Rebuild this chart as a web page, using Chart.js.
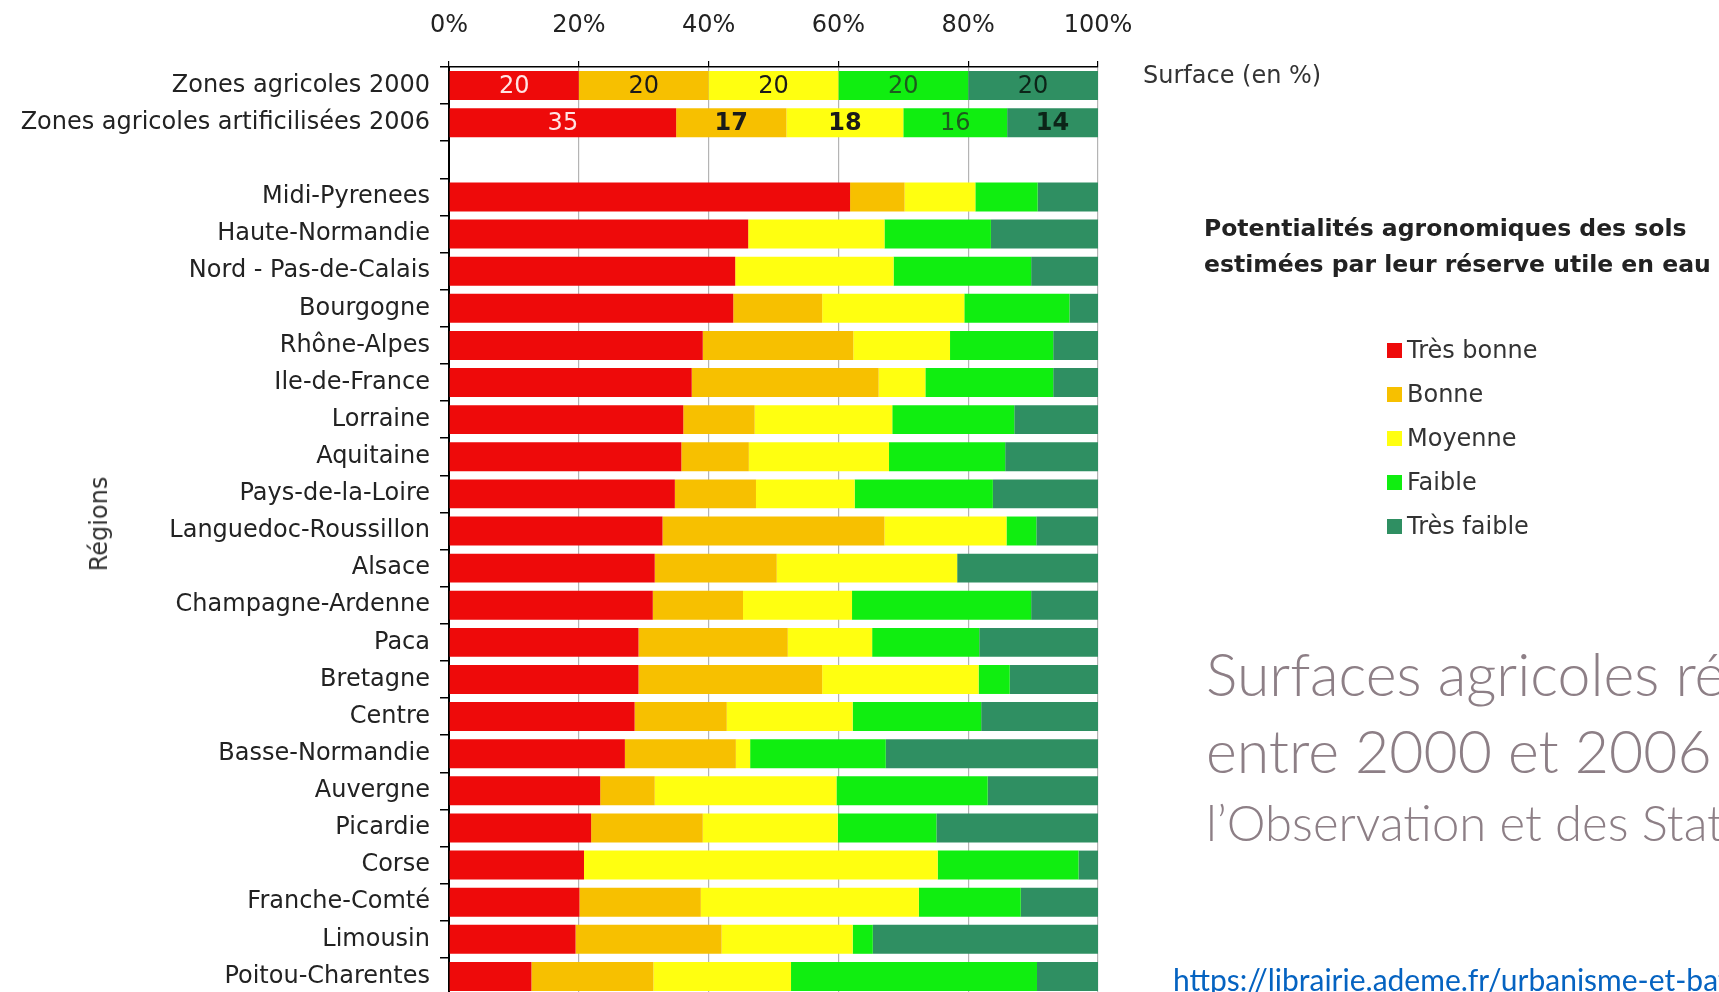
<!DOCTYPE html>
<html><head><meta charset="utf-8">
<script src="https://cdn.jsdelivr.net/npm/chart.js@4/dist/chart.umd.min.js"></script>
<style>
html,body{margin:0;padding:0;width:1719px;height:992px;overflow:hidden;background:#fff;}
#wrap{position:absolute;left:0;top:0;width:1719px;height:1000px;}
.t{position:absolute;white-space:nowrap;font-family:"DejaVu Sans",sans-serif;}
.big{position:absolute;white-space:nowrap;font-family:Lato,"Open Sans",sans-serif;font-weight:300;color:#8d7f86;}
.sq{position:absolute;width:15px;height:15px;}
</style></head><body>
<div id="wrap"><canvas id="c" width="1719" height="1000"></canvas></div>
<div class="t" style="left:1143px;top:61px;font-size:24px;line-height:28px;color:#333;">Surface (en %)</div>
<div class="t" style="left:1204px;top:210px;font-size:23.5px;line-height:36px;font-weight:bold;color:#222;">Potentialités agronomiques des sols<br>estimées par leur réserve utile en eau</div>
<div id="legend"></div>
<div class="t" style="left:99px;top:524px;font-size:24px;line-height:28px;color:#333;transform:translate(-50%,-50%) rotate(-90deg);">Régions</div>
<div class="big" style="left:1206px;top:639px;font-size:59px;line-height:70px;">Surfaces agricoles réduites</div>
<div class="big" style="left:1206px;top:716px;font-size:59px;line-height:70px;">entre 2000 et 2006 (</div>
<div class="big" style="left:1206px;top:793px;font-size:49px;line-height:58px;">l’Observation et des Statistiques</div>
<div class="t" style="left:1173px;top:961px;font-size:30px;line-height:36px;color:#0563c1;font-family:Lato,sans-serif;">https://librairie.ademe.fr/urbanisme-et-batiment</div>
<script>
const categories = ["Zones agricoles 2000","Zones agricoles artificilisées 2006","","Midi-Pyrenees","Haute-Normandie","Nord - Pas-de-Calais","Bourgogne","Rhône-Alpes","Ile-de-France","Lorraine","Aquitaine","Pays-de-la-Loire","Languedoc-Roussillon","Alsace","Champagne-Ardenne","Paca","Bretagne","Centre","Basse-Normandie","Auvergne","Picardie","Corse","Franche-Comté","Limousin","Poitou-Charentes"];
const seriesNames = ["Très bonne","Bonne","Moyenne","Faible","Très faible"];
const seriesColors = ["#ee0a0a","#f7c000","#ffff10","#10ee10","#2f8f62"];
const tresBonne  = [20,35,null,61.8,46.1,44.1,43.8,39.1,37.4,36.1,35.8,34.8,32.9,31.7,31.4,29.2,29.2,28.6,27.1,23.3,21.9,20.8,20.1,19.5,12.7];
const bonne      = [20,17,null, 8.4, 0.0, 0.0,13.7,23.2,28.8,11.0,10.4,12.5,34.2,18.8,13.9,23.0,28.3,14.2,17.1, 8.4,17.2, 0.0,18.7,22.5,18.8];
const moyenne    = [20,18,null,10.9,21.0,24.4,21.9,14.9, 7.2,21.2,21.6,15.2,18.8,27.8,16.8,13.0,24.1,19.4, 2.2,28.0,20.8,54.5,33.6,20.2,21.2];
const faible     = [20,16,null, 9.6,16.4,21.2,16.2,15.9,19.7,18.8,17.9,21.3, 4.6, 0.0,27.6,16.5, 4.8,19.8,20.9,23.3,15.2,21.7,15.7, 3.1,37.9];
const tresFaible = [20,14,null, 9.3,16.5,10.3, 4.4, 6.9, 6.9,12.9,14.3,16.2, 9.5,21.7,10.3,18.3,13.6,18.0,32.7,17.0,24.9, 3.0,11.9,34.7, 9.4];
const xTicks = [0,20,40,60,80,100];
const labelledRows = [0,1];
const labelColors = ["#ffe4e4","#1a1a1a","#1a1a1a","#1d5a1d","#0c2418"];

const seriesData = [tresBonne,bonne,moyenne,faible,tresFaible];

// HTML legend
const lg = document.getElementById('legend');
seriesNames.forEach((n,i)=>{
  const y = 350 + 44*i;
  const s = document.createElement('div'); s.className='sq';
  s.style.left='1387px'; s.style.top=(y-7)+'px'; s.style.background=seriesColors[i];
  lg.appendChild(s);
  const t = document.createElement('div'); t.className='t';
  t.style.cssText='left:1407px;top:'+(y-14)+'px;font-size:24px;line-height:28px;color:#333;';
  t.textContent=n; lg.appendChild(t);
});

const valueLabels = {
  id:'valueLabels',
  afterDatasetsDraw(chart){
    const ctx = chart.ctx;
    ctx.save();
    ctx.textAlign='center'; ctx.textBaseline='middle';
    chart.data.datasets.forEach((ds,di)=>{
      const meta = chart.getDatasetMeta(di);
      labelledRows.forEach(ri=>{
        const el = meta.data[ri]; const v = ds.data[ri];
        if(!el || v==null) return;
        const bold = (ri===1 && (di===1||di===2||di===4));
        ctx.font = (bold?'bold ':'')+'24px "DejaVu Sans"';
        ctx.fillStyle = labelColors[di];
        ctx.fillText(String(Math.round(v)), (el.x+el.base)/2, el.y+1);
      });
    });
    ctx.restore();
  }
};

new Chart(document.getElementById('c'), {
  type:'bar',
  data:{
    labels: categories,
    datasets: seriesNames.map((n,i)=>({
      label:n, data:seriesData[i], backgroundColor:seriesColors[i], borderWidth:0,
      barPercentage:0.78, categoryPercentage:1
    }))
  },
  options:{
    indexAxis:'y', responsive:false, animation:false, devicePixelRatio:1,
    layout:{padding:{left:0,top:0,right:621,bottom:5}},
    plugins:{legend:{display:false}, tooltip:{enabled:false}},
    scales:{
      x:{
        position:'top', stacked:true, min:0, max:100,
        afterBuildTicks(s){ s.ticks = xTicks.map(v=>({value:v})); },
        afterFit(s){ s.height = 67; },
        ticks:{ callback:v=>v+'%', font:{family:'DejaVu Sans', size:24}, color:'#222', padding:21, maxRotation:0 },
        grid:{ color:'#b4b4b4', lineWidth:1.2, tickColor:'#000', tickLength:6 },
        border:{ color:'#000', width:1.5 }
      },
      y:{
        stacked:true,
        afterFit(s){ s.width = 449; s.paddingTop = 0; s.paddingBottom = 0; },
        ticks:{ font:{family:'DejaVu Sans', size:24}, color:'#222', padding:10, autoSkip:false },
        grid:{ drawOnChartArea:false, drawTicks:true, tickLength:9, tickColor:'#000', lineWidth:1.5, offset:true },
        border:{ color:'#000', width:2 }
      }
    }
  },
  plugins:[valueLabels]
});
</script>
</body></html>
